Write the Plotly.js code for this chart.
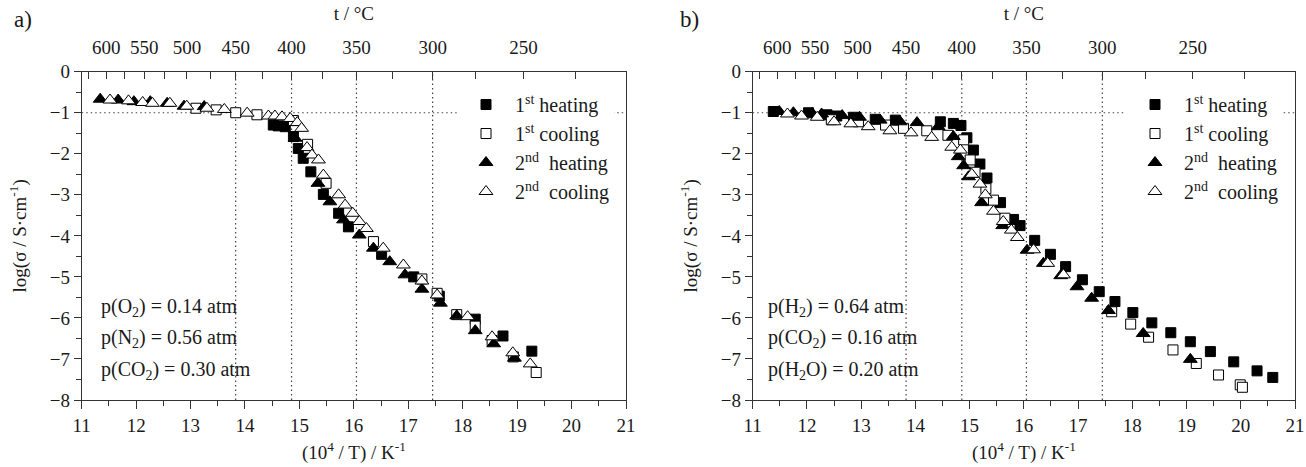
<!DOCTYPE html>
<html>
<head>
<meta charset="utf-8">
<script src="https://cdn.plot.ly/plotly-3.0.1.min.js"></script>
<style>html,body{margin:0;padding:0;background:#fff;}#chart{width:1306px;height:467px;}</style>
</head>
<body>
<div id="chart"></div>
<script>
// ---------- data: panel a (oxidising atmosphere) ----------
const a_heat1_x = [14.52,14.61,14.74,14.89,14.98,15.07,15.21,15.44,15.72,15.90,16.51,17.10,17.57,18.23,18.74,19.27];
const a_heat1_y = [-1.30,-1.32,-1.34,-1.58,-1.87,-2.11,-2.44,-2.99,-3.45,-3.78,-4.45,-5.00,-5.47,-6.03,-6.44,-6.81];
const a_cool1_x = [13.10,13.47,13.83,14.22,14.89,15.15,15.49,16.36,17.25,17.53,17.89,18.23,18.54,18.93,19.35];
const a_cool1_y = [-0.89,-0.93,-1.00,-1.05,-1.19,-1.77,-2.72,-4.14,-5.05,-5.40,-5.92,-6.20,-6.55,-6.95,-7.33];
const a_heat2_x = [11.34,11.67,11.96,12.26,12.57,12.88,13.25,14.92,15.34,15.56,15.81,16.10,16.36,16.66,16.94,17.25,17.59,17.89,18.23,18.57,18.95];
const a_heat2_y = [-0.67,-0.69,-0.73,-0.73,-0.77,-0.84,-0.85,-1.62,-2.72,-3.17,-3.61,-3.98,-4.30,-4.63,-4.95,-5.30,-5.64,-5.95,-6.31,-6.63,-6.98];
const a_cool2_x = [11.52,11.86,12.12,12.30,12.62,12.93,13.30,13.62,14.04,14.43,14.55,14.68,14.83,14.96,15.04,15.14,15.23,15.35,15.44,15.72,15.84,15.98,16.10,16.23,16.54,16.91,17.25,17.53,18.09,18.54,18.92,19.24];
const a_cool2_y = [-0.69,-0.71,-0.75,-0.77,-0.77,-0.84,-0.89,-0.92,-1.01,-1.08,-1.08,-1.10,-1.14,-1.24,-1.38,-1.85,-2.03,-2.15,-2.52,-3.00,-3.25,-3.45,-3.65,-3.82,-4.30,-4.71,-5.10,-5.44,-5.97,-6.46,-6.85,-7.12];

// ---------- data: panel b (reducing atmosphere) ----------
const b_heat1_x = [11.38,12.03,12.37,12.55,12.86,13.26,13.63,14.46,14.70,14.84,14.95,15.07,15.19,15.32,15.57,15.81,15.93,16.20,16.49,16.77,17.08,17.39,17.68,18.01,18.36,18.71,19.07,19.44,19.87,20.30,20.59];
const b_heat1_y = [-0.97,-1.00,-1.05,-1.08,-1.11,-1.16,-1.18,-1.22,-1.26,-1.31,-1.61,-1.91,-2.25,-2.59,-3.19,-3.60,-3.75,-4.11,-4.45,-4.75,-5.07,-5.36,-5.60,-5.87,-6.12,-6.36,-6.58,-6.82,-7.07,-7.29,-7.45];
const b_cool1_x = [12.45,12.95,13.45,13.78,14.21,14.60,14.89,15.01,15.10,15.30,15.44,15.65,17.62,17.97,18.30,18.75,19.18,19.59,19.99,20.03];
const b_cool1_y = [-1.17,-1.22,-1.30,-1.38,-1.44,-1.55,-1.66,-2.15,-2.45,-2.85,-3.13,-3.57,-5.85,-6.15,-6.47,-6.78,-7.11,-7.39,-7.63,-7.69];
const b_heat2_x = [11.49,11.75,12.10,12.27,12.65,12.97,13.35,13.72,14.03,14.42,14.70,14.79,14.89,14.98,15.22,15.61,16.06,16.36,16.68,16.98,17.25,17.56,18.20,19.07];
const b_heat2_y = [-0.97,-1.00,-1.02,-1.03,-1.07,-1.11,-1.18,-1.22,-1.24,-1.34,-1.58,-2.07,-2.29,-2.56,-3.19,-3.75,-4.35,-4.67,-4.97,-5.24,-5.52,-5.82,-6.38,-7.01];
const b_cool2_x = [11.64,11.90,12.19,12.50,12.81,13.13,13.53,13.92,14.30,14.67,14.83,15.04,15.19,15.29,15.44,15.62,15.77,15.88,16.18,16.44,16.73];
const b_cool2_y = [-1.03,-1.08,-1.11,-1.22,-1.27,-1.34,-1.44,-1.49,-1.60,-1.84,-1.91,-2.50,-2.74,-3.00,-3.40,-3.65,-3.86,-4.04,-4.34,-4.67,-4.95];

// ---------- labels ----------
const seriesNames = ['1<sup>st</sup> heating','1<sup>st</sup> cooling','2<sup>nd</sup>\u00a0 heating','2<sup>nd</sup>\u00a0 cooling'];
const tempLabelled = [600,550,500,450,400,350,300,250];
const tempMinor    = [625,575,525,475,425,375,325,275,225];
const gridTemps = [450,400,350,300];
const gridLogSigma = -1;
const xTicks = [11,12,13,14,15,16,17,18,19,20,21];
const yTicks = [0,-1,-2,-3,-4,-5,-6,-7,-8];
const gasA = ['p(O<sub>2</sub>) = 0.14 atm','p(N<sub>2</sub>) = 0.56 atm','p(CO<sub>2</sub>) = 0.30 atm'];
const gasB = ['p(H<sub>2</sub>) = 0.64 atm','p(CO<sub>2</sub>) = 0.16 atm','p(H<sub>2</sub>O) = 0.20 atm'];

const FONT = 'Liberation Serif, Times New Roman, serif';
const INK = '#1a1a1a';
const W = 1306, H = 467;
const px = v => v / W, py = v => 1 - v / H;
const invT = t => 1e4 / (t + 273.15);

const styles = [
  {symbol:'square', color:'#000', size:10},
  {symbol:'square', color:'#fff', size:10},
  {symbol:'triangle-up', color:'#000', size:12},
  {symbol:'triangle-up', color:'#fff', size:12}
];
function mk(x, y, i, xa, ya, leg) {
  return {x:x, y:y, xaxis:xa, yaxis:ya, type:'scatter', mode:'markers', name:seriesNames[i],
    legend:leg, legendgroup: leg + i,
    marker:{symbol:styles[i].symbol, size:styles[i].size, color:styles[i].color, line:{color:'#000', width:1}},
    cliponaxis:false};
}
const traces = [
  mk(a_heat1_x,a_heat1_y,0,'x','y','legend'),
  mk(a_cool1_x,a_cool1_y,1,'x','y','legend'),
  mk(a_heat2_x,a_heat2_y,2,'x','y','legend'),
  mk(a_cool2_x,a_cool2_y,3,'x','y','legend'),
  mk(b_heat1_x,b_heat1_y,0,'x2','y2','legend2'),
  mk(b_cool1_x,b_cool1_y,1,'x2','y2','legend2'),
  mk(b_heat2_x,b_heat2_y,2,'x2','y2','legend2'),
  mk(b_cool2_x,b_cool2_y,3,'x2','y2','legend2')
];
// empty traces that switch the top axes on
[['x3','y'],['x4','y2'],['x5','y'],['x6','y2']].forEach(([xa,ya]) =>
  traces.push({x:[], y:[], xaxis:xa, yaxis:ya, showlegend:false, type:'scatter', mode:'markers', hoverinfo:'skip'}));

const domA = [px(81.7), px(626)];
const domB = [px(752.7), px(1295)];
const domY = [py(400), py(71.7)];

function bottomAxis(dom, anchor) {
  return {domain:dom, anchor:anchor, range:[11,21], tickvals:xTicks, ticks:'outside', ticklen:8, tickwidth:1, tickcolor:'#333',
    minor:{dtick:0.5, tick0:11, ticks:'outside', ticklen:5, tickcolor:'#333'},
    showline:true, linecolor:'#333', linewidth:1, mirror:true, showgrid:false, zeroline:false,
    tickfont:{family:FONT, size:19, color:INK},
    title:{text:'(10<sup>4</sup> / T) / K<sup>-1</sup>', font:{family:FONT, size:19, color:INK}, standoff:10}};
}
function topAxis(over, anchor) {
  return {overlaying:over, anchor:anchor, side:'top', range:[11,21], tickmode:'array',
    tickvals:tempLabelled.map(invT), ticktext:tempLabelled.map(String),
    ticks:'inside', ticklen:7, tickwidth:1, tickcolor:'#333', showline:true, linecolor:'#333', showgrid:false, zeroline:false,
    ticklabelstandoff:9,
    tickfont:{family:FONT, size:19, color:INK},
    title:{text:'t / °C', font:{family:FONT, size:19, color:INK}, standoff:11}};
}
function topMinor(over, anchor) {
  return {overlaying:over, anchor:anchor, side:'top', range:[11,21], tickmode:'array',
    tickvals:tempMinor.map(invT), showticklabels:false,
    ticks:'inside', ticklen:7, tickwidth:1, tickcolor:'#333', showline:false, showgrid:false, zeroline:false};
}
function leftAxis(dom, anchor) {
  return {domain:dom, anchor:anchor, range:[-8,0], tickvals:yTicks, ticks:'outside', ticklen:7, tickwidth:1, tickcolor:'#333',
    minor:{dtick:0.5, tick0:0, ticks:'outside', ticklen:5, tickcolor:'#333'},
    showline:true, linecolor:'#333', mirror:true, showgrid:false, zeroline:false,
    tickfont:{family:FONT, size:19, color:INK},
    title:{text:'log(σ / S·cm<sup>-1</sup>)', font:{family:FONT, size:19, color:INK}, standoff:18}};
}

const shapes = [];
[['x','y'],['x2','y2']].forEach(([xr,yr]) => {
  gridTemps.forEach(t => shapes.push({type:'line', xref:xr, yref:yr, x0:invT(t), x1:invT(t), y0:-8, y1:0,
    line:{color:'#444', width:1.2, dash:'1.5px,3px'}, layer:'below'}));
  shapes.push({type:'line', xref:xr, yref:yr, x0:11, x1:21, y0:gridLogSigma, y1:gridLogSigma,
    line:{color:'#444', width:1.2, dash:'1.5px,3px'}, layer:'below'});
});

const annotations = [];
gasA.forEach((t,i) => annotations.push({xref:'paper', yref:'paper', x:px(99), y:py(307 + i*31.5), xanchor:'left', yanchor:'middle',
  text:t, showarrow:false, font:{family:FONT, size:20, color:INK}}));
gasB.forEach((t,i) => annotations.push({xref:'paper', yref:'paper', x:px(766), y:py(307 + i*31.5), xanchor:'left', yanchor:'middle',
  text:t, showarrow:false, font:{family:FONT, size:20, color:INK}}));
annotations.push({xref:'paper', yref:'paper', x:px(12), y:py(20), xanchor:'left', yanchor:'middle', text:'a)', showarrow:false, font:{family:FONT, size:23, color:INK}});
annotations.push({xref:'paper', yref:'paper', x:px(678), y:py(20), xanchor:'left', yanchor:'middle', text:'b)', showarrow:false, font:{family:FONT, size:23, color:INK}});

const legendBase = {yanchor:'top', xanchor:'left', bgcolor:'#fff', borderwidth:0, font:{family:FONT, size:20, color:INK},
  itemwidth:48, tracegroupgap:4, traceorder:'normal'};

const layout = {
  width:W, height:H, margin:{l:0,r:0,t:0,b:0}, paper_bgcolor:'#fff', plot_bgcolor:'#fff', showlegend:true,
  xaxis: bottomAxis(domA,'y'),
  yaxis: leftAxis(domY,'x'),
  xaxis2: bottomAxis(domB,'y2'),
  yaxis2: leftAxis(domY,'x2'),
  xaxis3: topAxis('x','y'),
  xaxis4: topAxis('x2','y2'),
  xaxis5: topMinor('x','y'),
  xaxis6: topMinor('x2','y2'),
  legend: Object.assign({x:px(457), y:py(85)}, legendBase),
  legend2: Object.assign({x:px(1126), y:py(85)}, legendBase),
  shapes: shapes,
  annotations: annotations,
  font:{family:FONT, color:INK}
};

Plotly.newPlot('chart', traces, layout, {staticPlot:true});
</script>
</body>
</html>
